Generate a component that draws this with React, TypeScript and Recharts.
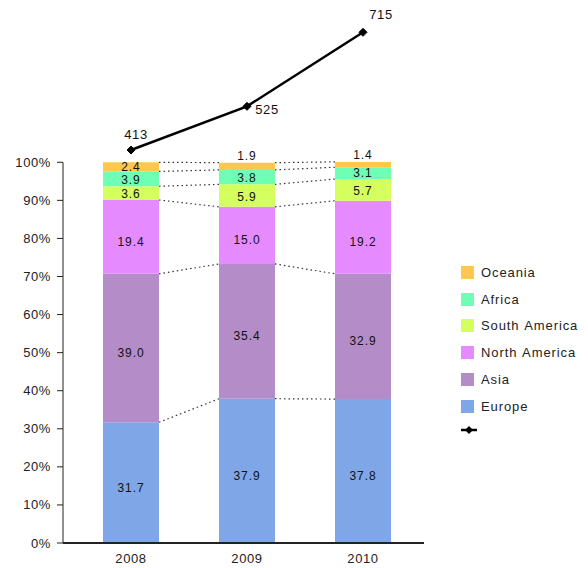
import React from 'react';
import { ComposedChart, Bar, Line, XAxis, YAxis, ReferenceLine, LabelList, Legend } from 'recharts';

const years = ['2008', '2009', '2010'];
const europe = [31.7, 37.9, 37.8];
const asia = [39.0, 35.4, 32.9];
const northAmerica = [19.4, 15.0, 19.2];
const southAmerica = [3.6, 5.9, 5.7];
const africa = [3.9, 3.8, 3.1];
const oceania = [2.4, 1.9, 1.4];
const totals = [413, 525, 715];
const percentTicks = [0, 10, 20, 30, 40, 50, 60, 70, 80, 90, 100];

const FONT = '"Liberation Sans", Arial, Helvetica, sans-serif';

const series = [
  { key: 'europe', name: 'Europe', values: europe, color: '#7fa7e8' },
  { key: 'asia', name: 'Asia', values: asia, color: '#b38cc8' },
  { key: 'northAmerica', name: 'North America', values: northAmerica, color: '#e68bff' },
  { key: 'southAmerica', name: 'South America', values: southAmerica, color: '#d4ff5e' },
  { key: 'africa', name: 'Africa', values: africa, color: '#6effb4' },
  { key: 'oceania', name: 'Oceania', values: oceania, color: '#ffc84a' },
];

const data = years.map((year, i) => {
  const row: any = { year, idx: i, total: totals[i] };
  series.forEach((s) => {
    row[s.key] = s.values[i];
  });
  return row;
});

// bar geometry: band = 116px, bar = 56px -> half bar in band units
const BAR_SIZE = 56;
const BAND = 116;
const HALF = BAR_SIZE / 2 / BAND;

const cumulative = years.map((_, i) => {
  let acc = 0;
  return series.map((s) => {
    acc += s.values[i];
    return acc;
  });
});

const connectors: { x1: number; y1: number; x2: number; y2: number }[] = [];
series.forEach((_, k) => {
  for (let i = 0; i < years.length - 1; i++) {
    connectors.push({ x1: i + HALF, y1: cumulative[i][k], x2: i + 1 - HALF, y2: cumulative[i + 1][k] });
  }
});

const totalLabelOffsets = [
  { dx: 5, dy: -15 },
  { dx: 20, dy: 3 },
  { dx: 18, dy: -18 },
];

const SegLabel = (props: any) => {
  const { x, y, width, height, value } = props;
  const cx = x + width / 2;
  let cy = y + height / 2;
  if (height < 8) cy = y - 7;
  else if (height > 40) cy += 5;
  else if (height >= 12) cy += 1;
  return (
    <text
      x={cx}
      y={cy}
      textAnchor="middle"
      dominantBaseline="central"
      fontFamily={FONT}
      fontSize={12}
      letterSpacing={0.9}
      fill="#111"
    >
      {Number(value).toFixed(1)}
    </text>
  );
};

const Diamond = (props: any) => {
  const { cx, cy, index } = props;
  if (cx == null || cy == null) return <g key={`d-${index}`} />;
  const r = 4;
  return (
    <path
      key={`d-${index}`}
      d={`M${cx},${cy - r}L${cx + r},${cy}L${cx},${cy + r}L${cx - r},${cy}Z`}
      fill="#000"
      stroke="#000"
    />
  );
};

const TotalLabel = (props: any) => {
  const { x, y, value, index } = props;
  const o = totalLabelOffsets[index] || { dx: 0, dy: -12 };
  return (
    <text
      x={x + o.dx}
      y={y + o.dy}
      textAnchor="middle"
      dominantBaseline="central"
      fontFamily={FONT}
      fontSize={13}
      letterSpacing={0.6}
      fill="#111"
    >
      {value}
    </text>
  );
};

const YTick = (props: any) => {
  const { x, y, payload } = props;
  return (
    <text
      x={x}
      y={y}
      textAnchor="end"
      dominantBaseline="central"
      fontFamily={FONT}
      fontSize={13}
      letterSpacing={0.6}
      fill="#222"
    >
      {`${payload.value}%`}
    </text>
  );
};

const XTick = (props: any) => {
  const { x, y, payload } = props;
  return (
    <text
      x={x}
      y={y}
      dy="0.71em"
      textAnchor="middle"
      fontFamily={FONT}
      fontSize={13}
      letterSpacing={0.6}
      fill="#222"
    >
      {payload.value}
    </text>
  );
};

const LegendContent = () => {
  const items = [...series].reverse();
  return (
    <div
      style={{
        fontFamily: FONT,
        fontSize: 13,
        color: '#222',
        letterSpacing: 0.9,
        wordSpacing: 1,
        whiteSpace: 'nowrap',
      }}
    >
      {items.map((s) => (
        <div key={s.key} style={{ height: 26.8, display: 'flex', alignItems: 'center' }}>
          <span style={{ display: 'inline-block', width: 13, height: 13, background: s.color, marginRight: 7 }} />
          <span>{s.name}</span>
        </div>
      ))}
      <div style={{ height: 20, display: 'flex', alignItems: 'center' }}>
        <svg width={16} height={10}>
          <line x1={0} y1={5} x2={16} y2={5} stroke="#000" strokeWidth={2.5} />
          <path d="M8,1L12,5L8,9L4,5Z" fill="#000" />
        </svg>
      </div>
    </div>
  );
};

export default function App() {
  return (
    <div style={{ width: 572, height: 560 }}>
      <ComposedChart
        width={580}
        height={560}
        data={data}
        margin={{ top: 2, right: 164, bottom: 0, left: 10 }}
        style={{ overflow: 'visible' }}
      >
        <XAxis
          xAxisId="cat"
          dataKey="year"
          padding={{ left: 10, right: 3 }}
          tickLine={false}
          axisLine={{ stroke: '#222', strokeWidth: 2 }}
          tick={<XTick />}
          tickMargin={5}
          height={25}
          interval={0}
        />
        <XAxis
          xAxisId="num"
          dataKey="idx"
          type="number"
          domain={[-0.5, 2.5]}
          allowDataOverflow
          padding={{ left: 10, right: 3 }}
          hide
        />
        <XAxis xAxisId="edge" dataKey="idx" type="number" domain={[0, 1]} allowDataOverflow hide />
        <YAxis
          yAxisId="bar"
          type="number"
          domain={[0, 140]}
          allowDataOverflow
          ticks={percentTicks}
          width={45}
          axisLine={false}
          tickLine={{ stroke: '#222' }}
          tickSize={6}
          tickMargin={6}
          tick={<YTick />}
          interval={0}
        />
        <YAxis yAxisId="line" type="number" domain={[-595.4, 772.2]} orientation="right" hide />

        {series.map((s) => (
          <Bar
            key={s.key}
            xAxisId="cat"
            yAxisId="bar"
            stackId="stack"
            dataKey={s.key}
            name={s.name}
            fill={s.color}
            barSize={BAR_SIZE}
            isAnimationActive={false}
          >
            <LabelList dataKey={s.key} content={<SegLabel />} />
          </Bar>
        ))}

        {connectors.map((c, idx) => (
          <ReferenceLine
            key={`c-${idx}`}
            xAxisId="num"
            yAxisId="bar"
            segment={[
              { x: c.x1, y: c.y1 },
              { x: c.x2, y: c.y2 },
            ]}
            stroke="#333"
            strokeWidth={1.2}
            strokeDasharray="1.5 3"
            ifOverflow="visible"
          />
        ))}

        <ReferenceLine
          xAxisId="edge"
          yAxisId="bar"
          segment={[
            { x: 0, y: 0 },
            { x: 0, y: 100 },
          ]}
          stroke="#222"
          strokeWidth={1}
          ifOverflow="visible"
        />

        <Line
          xAxisId="cat"
          yAxisId="line"
          dataKey="total"
          stroke="#000"
          strokeWidth={2.5}
          dot={<Diamond />}
          activeDot={false}
          label={<TotalLabel />}
          legendType="none"
          isAnimationActive={false}
        />

        <Legend
          layout="horizontal"
          verticalAlign="middle"
          align="center"
          wrapperStyle={{ left: 453, top: 251, width: 125 }}
          content={<LegendContent />}
        />
      </ComposedChart>
    </div>
  );
}
